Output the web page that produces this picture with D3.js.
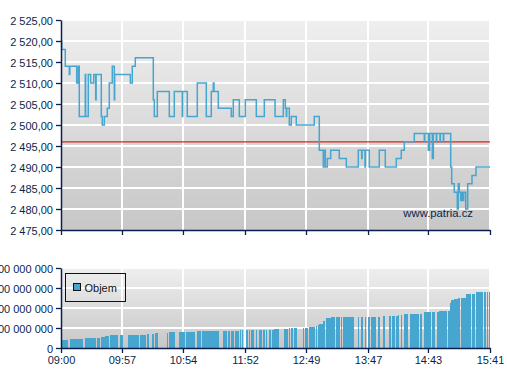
<!DOCTYPE html>
<html>
<head>
<meta charset="utf-8">
<script src="https://cdn.jsdelivr.net/npm/d3@7"></script>
<style>
  body { margin: 0; background: #fff; }
  svg text { font-family: "Liberation Sans", Arial, sans-serif; }
</style>
</head>
<body>
<div id="main"></div>
<script>
// intraday price (step changes)
const priceTimes = [
  '09:00:00','09:00:40','09:04:00','09:07:45','09:08:15','09:14:40','09:16:10','09:17:05','09:22:40','09:23:05',
  '09:25:30','09:27:45','09:30:35','09:32:25','09:32:50','09:37:40','09:38:35','09:40:30','09:43:17','09:45:08',
  '09:47:57','09:49:49','09:50:11','10:04:47','10:06:39','10:09:27','10:26:17','10:27:13','10:30:01','10:41:14',
  '10:45:54','10:53:23','10:53:45','10:58:03','11:07:24','11:15:49','11:20:29','11:22:21','11:23:01','11:27:02',
  '11:39:11','11:41:03','11:46:40','11:52:17','12:02:34','12:10:03','12:20:05','12:27:48','12:29:40','12:30:36',
  '12:31:00','12:33:24','12:35:16','12:39:56','12:56:46','13:01:26','13:05:10','13:05:33','13:07:03','13:08:55',
  '13:12:05','13:20:08','13:26:41','13:37:53','13:41:04','13:41:26','13:44:09','13:44:31','13:48:10','13:57:31',
  '14:03:07','14:13:24','14:18:04','14:20:53','14:30:14','14:39:35','14:40:00','14:43:20','14:44:37','14:47:04',
  '14:48:01','14:50:49','14:51:11','14:54:16','14:54:38','14:57:22','14:57:43','15:04:16','15:05:12','15:07:37',
  '15:10:25','15:11:21','15:12:17','15:13:36','15:14:32','15:15:28','15:16:25','15:18:17','15:20:09','15:24:10',
  '15:27:54','15:41:00'
];
const priceValues = [
  2520,2518,2514,2512,2514,2510,2514,2502,2512,2502,
  2512,2510,2512,2506,2512,2502,2500,2502,2504,2510,
  2514,2506,2512,2510,2514,2516,2506,2502,2508,2502,
  2508,2502,2508,2502,2510,2502,2508,2510,2508,2504,
  2502,2506,2502,2506,2502,2506,2502,2506,2504,2502,
  2504,2500,2502,2500,2502,2494,2490,2494,2490,2492,
  2494,2492,2490,2494,2492,2494,2490,2494,2490,2494,
  2490,2492,2494,2496,2498,2496,2498,2494,2498,2492,
  2498,2496,2498,2496,2498,2496,2498,2490,2486,2484,
  2480,2486,2484,2482,2484,2482,2484,2480,2486,2488,
  2490,2490
];
const refPrice = 2496;
const priceTicks = [2475, 2480, 2485, 2490, 2495, 2500, 2505, 2510, 2515, 2520, 2525];

// cumulative volume bars (millions)
const volStart = [
  '09:00','09:08','09:22','09:34','09:37','09:41','09:46','09:55','10:03','10:14',
  '10:20','10:25','10:28','10:39','10:41','10:50','10:57','11:07','11:12','11:31',
  '11:36','11:39','11:43','11:47','11:49','11:53','11:56','11:58','12:02','12:05',
  '12:09','12:12','12:14','12:17','12:19','12:28','12:33','12:35','12:38','12:46',
  '12:48','12:52','12:58','13:00','13:01','13:05','13:08','13:12','13:17','13:22',
  '13:24','13:38','13:40','13:44','13:47','13:50','13:56','14:01','14:07','14:09',
  '14:13','14:15','14:18','14:21','14:26','14:36','14:39','14:47','14:51','14:53',
  '15:02','15:04','15:05','15:07','15:11','15:14','15:19','15:24','15:28','15:35',
  '15:38','15:40'
];
const volEnd = [
  '09:07','09:21','09:33','09:36','09:41','09:45','09:53','09:58','10:13','10:19',
  '10:22','10:27','10:31','10:40','10:47','10:56','11:05','11:11','11:28','11:35',
  '11:38','11:42','11:46','11:48','11:50','11:55','11:57','12:00','12:03','12:08',
  '12:11','12:13','12:16','12:19','12:24','12:32','12:34','12:37','12:41','12:47',
  '12:51','12:57','12:59','13:01','13:05','13:07','13:12','13:16','13:21','13:23',
  '13:34','13:39','13:42','13:45','13:49','13:54','13:58','14:03','14:08','14:12',
  '14:15','14:16','14:19','14:24','14:35','14:37','14:46','14:50','14:53','15:01',
  '15:04','15:05','15:07','15:11','15:13','15:19','15:23','15:27','15:34','15:37',
  '15:39','15:41'
];
const volMillions = [
  40,45,50,50,55,62,66,66,66,66,
  70,72,75,77,80,80,80,85,85,85,
  85,85,85,88,88,90,90,90,90,90,
  90,90,90,92,95,95,100,100,100,100,
  100,105,108,113,120,135,150,157,157,157,
  157,157,157,157,157,157,157,160,162,162,
  162,165,167,170,170,170,180,180,180,185,
  185,225,238,243,250,250,268,268,280,280,
  280,280
];
const volTicks = [0, 100, 200, 300, 400];

const timeTicks = ['09:00','09:57','10:54','11:52','12:49','13:47','14:43','15:41'];

const
  width = 507,
  height = 380,
  navy = '#0b1f4d',
  blue = '#47a6cf';

const parseT = d3.timeParse('%H:%M:%S');
const parseHM = d3.timeParse('%H:%M');
const loc = d3.formatLocale({decimal: ',', thousands: ' ', grouping: [3], currency: ['', '']});
const fmtPrice = loc.format(',.2f');
const fmtVol = (d) => loc.format(',')(d * 1e6);

const x = d3.scaleTime()
            .domain([parseHM('09:00'), parseHM('15:41')])
            .range([61, 490]);
const yP = d3.scaleLinear().domain([2475, 2525]).range([230, 20]);
const yV = d3.scaleLinear().domain([0, 400]).range([348, 268]);

const svg = d3.select('div#main').append('svg')
  .attr('width', width).attr('height', height);

const grad = svg.append('defs').append('linearGradient')
  .attr('id', 'bg').attr('x1', 0).attr('y1', 0).attr('x2', 0).attr('y2', 1);
grad.append('stop').attr('offset', '0%').attr('stop-color', '#efefef');
grad.append('stop').attr('offset', '100%').attr('stop-color', '#c7c7c7');

// backgrounds
svg.append('rect').attr('x', 61).attr('y', 20).attr('width', 429).attr('height', 210).attr('fill', 'url(#bg)');
svg.append('rect').attr('x', 61).attr('y', 268).attr('width', 429).attr('height', 80).attr('fill', 'url(#bg)');

// grids
const grid = svg.append('g').attr('stroke', '#fff').attr('stroke-width', 1.3).attr('shape-rendering', 'crispEdges');
grid.selectAll('.hp').data(priceTicks.slice(1)).join('line')
  .attr('x1', 61).attr('x2', 490).attr('y1', (d) => yP(d)).attr('y2', (d) => yP(d));
grid.selectAll('.hv').data(volTicks.slice(1)).join('line').attr('class', 'hv')
  .attr('x1', 61).attr('x2', 490).attr('y1', (d) => yV(d)).attr('y2', (d) => yV(d));
grid.selectAll('.vp').data(timeTicks.slice(1)).join('line').attr('class', 'vp')
  .attr('x1', (d) => x(parseHM(d))).attr('x2', (d) => x(parseHM(d))).attr('y1', 20).attr('y2', 230);
grid.selectAll('.vv').data(timeTicks.slice(1)).join('line').attr('class', 'vv')
  .attr('x1', (d) => x(parseHM(d))).attr('x2', (d) => x(parseHM(d))).attr('y1', 268).attr('y2', 348);

// volume bars
svg.append('g').attr('fill', blue).attr('shape-rendering', 'crispEdges')
  .selectAll('rect').data(volMillions).join('rect')
  .attr('x', (d, i) => x(parseHM(volStart[i])))
  .attr('width', (d, i) => x(parseHM(volEnd[i])) - x(parseHM(volStart[i])))
  .attr('y', (d) => yV(d))
  .attr('height', (d) => yV(0) - yV(d));

// reference price
svg.append('line')
  .attr('x1', 61).attr('x2', 490).attr('y1', yP(refPrice)).attr('y2', yP(refPrice))
  .attr('stroke', '#e0201c').attr('stroke-width', 1.3);

// price step line
const priceData = priceTimes.map((t, i) => ({t: parseT(t), v: priceValues[i]}));
const line = d3.line()
  .x((d) => x(d.t))
  .y((d) => yP(d.v))
  .curve(d3.curveStepAfter);
svg.append('path').attr('d', line(priceData))
  .attr('fill', 'none').attr('stroke', blue).attr('stroke-width', 1.5);

// watermark
svg.append('text').attr('x', 473).attr('y', 217).attr('text-anchor', 'end')
  .attr('font-size', 11.3).attr('fill', navy).text('www.patria.cz');

// axes
function styleAxis(g) {
  g.attr('font-family', null).attr('font-size', 11);
  g.select('.domain').attr('stroke', navy).attr('stroke-width', 1.5);
  g.selectAll('.tick line').attr('stroke', navy).attr('stroke-width', 1.3);
  g.selectAll('.tick text').attr('fill', navy);
}

svg.append('g').attr('transform', 'translate(61,0)')
  .call(d3.axisLeft(yP).tickValues(priceTicks).tickFormat(fmtPrice).tickSize(5).tickSizeOuter(0).tickPadding(3))
  .call(styleAxis)
  .selectAll('.tick text').attr('dy', '0.43em');

svg.append('g').attr('transform', 'translate(0,230)')
  .call(d3.axisBottom(x).tickValues(timeTicks.map(parseHM)).tickFormat('').tickSize(5).tickSizeOuter(0))
  .call(styleAxis);

svg.append('g').attr('transform', 'translate(61,0)')
  .call(d3.axisLeft(yV).tickValues(volTicks).tickFormat(fmtVol).tickSize(5).tickSizeOuter(0).tickPadding(3))
  .call(styleAxis)
  .selectAll('.tick text').attr('dy', '0.43em');

svg.append('g').attr('transform', 'translate(0,348)')
  .call(d3.axisBottom(x).tickValues(timeTicks.map(parseHM)).tickFormat(d3.timeFormat('%H:%M')).tickSize(5).tickSizeOuter(0).tickPadding(3))
  .call(styleAxis);

// legend
const legend = svg.append('g').attr('shape-rendering', 'crispEdges');
legend.append('rect').attr('x', 65.5).attr('y', 273.5).attr('width', 60).attr('height', 28)
  .attr('fill', 'none').attr('stroke', '#111');
legend.append('rect').attr('x', 73.5).attr('y', 283.5).attr('width', 7).attr('height', 7)
  .attr('fill', blue).attr('stroke', '#111');
legend.append('text').attr('x', 84.5).attr('y', 291.5).attr('font-size', 11).attr('fill', '#111')
  .attr('shape-rendering', null).text('Objem');
</script>
</body>
</html>
